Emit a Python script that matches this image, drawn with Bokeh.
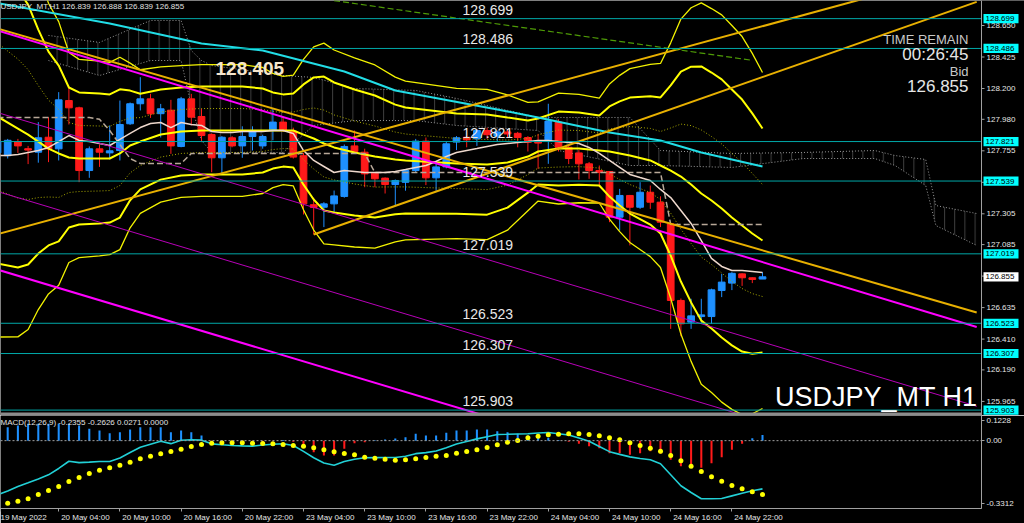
import math
import numpy as np
from bokeh.plotting import figure
from bokeh.models import (Range1d, FixedTicker, Label, BoxAnnotation, Span, ColumnDataSource)
from bokeh.layouts import column
from bokeh.embed import file_html
from bokeh.resources import INLINE
from bokeh.core.properties import value

# ---------------- data ----------------
bars = list(range(76))
opens = [127.74,127.72,127.82,127.77,127.745,127.852,127.769,128.114,128.062,127.614,
         127.769,127.74,127.757,127.948,128.091,128.126,128.02,128.045,127.786,128.126,
         128.0,127.871,127.705,127.848,127.79,127.857,127.79,127.90,127.96,127.895,
         127.72,127.37,127.352,127.376,127.429,127.79,127.745,127.595,127.56,127.514,
         127.53,127.614,127.824,127.562,127.64,127.817,127.852,127.84,127.90,127.86,
         127.89,127.88,127.85,127.824,127.829,127.96,127.78,127.74,127.662,127.614,
         127.607,127.281,127.436,127.352,127.459,127.388,127.233,126.686,126.531,126.571,
         126.571,126.757,126.81,126.876,126.848,126.839]
highs = [127.84,127.84,127.84,127.79,127.96,127.995,128.174,128.214,128.07,127.786,
         127.80,127.936,128.114,128.10,128.281,128.162,128.09,128.119,128.14,128.162,
         128.055,127.88,127.86,127.86,127.93,127.93,127.87,128.055,128.0,127.92,
         127.74,127.42,127.388,127.471,127.80,127.90,127.77,127.60,127.565,127.55,
         127.62,127.84,127.85,127.686,127.82,127.86,127.86,127.91,127.92,127.90,
         127.91,127.89,127.86,127.876,128.091,127.98,127.80,127.76,127.675,127.65,
         127.61,127.483,127.44,127.531,127.507,127.43,127.24,126.70,126.698,126.698,
         126.77,126.876,126.888,126.88,126.85,126.888]
lows = [127.70,127.70,127.74,127.66,127.67,127.674,127.686,127.943,127.531,127.562,
        127.64,127.693,127.686,127.94,128.043,127.99,127.85,127.733,127.78,127.936,
        127.817,127.602,127.59,127.78,127.705,127.757,127.77,127.83,127.89,127.70,
        127.30,127.157,127.21,127.31,127.42,127.74,127.495,127.495,127.45,127.36,
        127.47,127.60,127.51,127.47,127.63,127.76,127.78,127.79,127.84,127.82,
        127.85,127.78,127.75,127.626,127.662,127.75,127.66,127.55,127.555,127.495,
        127.245,127.186,127.079,127.34,127.34,127.21,126.483,126.43,126.483,126.519,
        126.519,126.71,126.76,126.79,126.81,126.839]
closes = [127.82,127.83,127.79,127.76,127.848,127.769,128.119,128.062,127.614,127.769,
          127.745,127.755,127.943,128.091,128.126,128.019,128.055,127.79,128.126,127.995,
          127.864,127.705,127.852,127.79,127.857,127.895,127.857,127.96,127.90,127.71,
          127.376,127.35,127.376,127.433,127.786,127.75,127.59,127.555,127.514,127.543,
          127.614,127.824,127.562,127.64,127.805,127.848,127.833,127.90,127.87,127.89,
          127.875,127.85,127.815,127.81,127.967,127.78,127.70,127.662,127.614,127.60,
          127.281,127.436,127.352,127.459,127.388,127.245,126.686,126.519,126.576,126.583,
          126.762,126.817,126.88,126.848,126.836,126.855]

time_ticks = [0, 6, 12, 18, 24, 30, 36, 42, 48, 54, 60, 66, 72]
time_labels = ["19 May 2022", "20 May 04:00", "20 May 10:00", "20 May 16:00", "20 May 22:00",
               "23 May 04:00", "23 May 10:00", "23 May 16:00", "23 May 22:00",
               "24 May 04:00", "24 May 10:00", "24 May 16:00", "24 May 22:00"]
price_ticks = [128.650, 128.425, 128.200, 127.980, 127.755, 127.530, 127.305, 127.085,
               126.860, 126.635, 126.410, 126.190, 125.965]
levels = [128.699, 128.486, 127.821, 127.539, 127.019, 126.523, 126.307, 125.903]
bid = 126.855
marked_price = "128.405"

# Bollinger bands (middle line and sigma)
bb_bars = [0,2,3,4,5,6,7,8,10,11,12,13,14,16,18,20,24,26,27,28,29,30,31,32,33,35,37,39,
           40,45,48,50,52,53,55,57,59,60,61,62,64,65,66,67,68,69,70,71,72,73,74,75]
bb_mid = [128.000,127.914,127.871,127.821,127.771,127.736,127.707,127.700,
          127.700,127.700,127.736,127.793,127.821,
          127.871,127.893,127.900,127.900,127.900,
          127.900,127.900,127.900,127.871,127.843,
          127.807,127.779,127.743,127.714,127.693,
          127.686,127.664,127.657,127.671,127.714,
          127.750,127.771,127.771,127.757,127.750,
          127.736,127.721,127.686,127.650,127.614,
          127.571,127.514,127.450,127.400,127.343,
          127.279,127.221,127.164,127.114]
bb_sigma = [0.525,0.496,0.464,0.400,0.346,0.314,0.250,0.236,
            0.232,0.229,0.229,0.196,0.171,
            0.161,0.157,0.157,0.157,0.150,
            0.136,0.129,0.132,0.179,0.218,
            0.239,0.232,0.225,0.218,0.196,
            0.189,0.179,0.179,0.161,0.129,
            0.118,0.132,0.129,0.125,0.161,
            0.186,0.207,0.229,0.243,0.304,
            0.375,0.421,0.454,0.457,0.461,
            0.457,0.450,0.429,0.400]

# long moving average (cyan)
ma_bars = [0, 11, 20, 26, 34, 39, 49, 53, 60, 65, 69, 75]
ma_long = [128.811, 128.664, 128.521, 128.471, 128.321, 128.186, 128.050, 127.993,
           127.886, 127.829, 127.743, 127.643]

# Ichimoku
tenkan = [127.721,127.721,127.729,127.743,127.757,127.779,127.821,127.864,127.829,127.821,
          127.807,127.793,127.836,127.879,127.921,127.950,127.957,127.921,127.957,127.943,
          127.936,127.893,127.886,127.886,127.893,127.893,127.893,127.900,127.900,127.879,
          127.757,127.686,127.643,127.600,127.614,127.607,127.600,127.600,127.600,127.607,
          127.621,127.636,127.650,127.679,127.714,127.743,127.757,127.771,127.786,127.800,
          127.807,127.814,127.821,127.829,127.829,127.821,127.814,127.807,127.779,127.736,
          127.686,127.636,127.586,127.564,127.543,127.479,127.421,127.329,127.236,127.114,
          126.986,126.929,126.900,126.900,126.893,126.886]
kijun = ([127.993] * 10 + [127.98, 127.90, 127.80, 127.70] + [127.664] * 5 +
         [127.736] * 18 + [127.600] * 29 + [127.229] * 10)
cloud_bars = [5,10,15,18,19,20,21,28,31,35,41,45,53,55,62,65,72,79,86,88,91,92,96]
cloud_a = [128.579,128.529,128.686,128.686,128.471,128.400,128.364,128.293,128.279,128.200,
           128.186,128.129,127.993,127.993,127.993,127.757,127.736,127.743,127.757,127.721,
           127.693,127.364,127.307]
cloud_b = [128.400,128.293,128.400,128.400,128.079,127.829,127.743,127.743,127.936,127.971,
           127.971,127.936,127.900,127.757,127.650,127.650,127.636,127.700,127.700,127.650,
           127.507,127.221,127.079]

# trend lines: (bar1, price1, bar2, price2)
gold_lines = [(0, 127.159, 96, 129.061), (31, 127.157, 96, 128.819), (0, 128.628, 96, 126.600)]
magenta_thick = [(0, 128.614, 96, 126.497), (0, 126.906, 50, 125.814)]
magenta_thin = [(0, 128.028, 96, 125.930), (0, 127.464, 96, 125.366)]
green_line = (33, 128.828, 74, 128.401)

# MACD(12,26,9)
macd_main = [-0.2651,-0.2456,-0.2236,-0.2056,-0.1870,-0.1670,-0.1357,-0.1006,-0.1074,-0.1050,
             -0.1016,-0.1016,-0.0845,-0.0576,-0.0322,-0.0171,-0.0029,-0.0146,0.0020,0.0044,
             0.0024,-0.0156,-0.0200,-0.0234,-0.0254,-0.0269,-0.0215,-0.0176,-0.0151,-0.0234,
             -0.0522,-0.0835,-0.1089,-0.1201,-0.1021,-0.0908,-0.0835,-0.0830,-0.0825,-0.0820,
             -0.0762,-0.0635,-0.0586,-0.0503,-0.0342,-0.0161,-0.0039,0.0088,0.0195,0.0303,
             0.0313,0.0327,0.0337,0.0371,0.0396,0.0337,0.0273,0.0132,-0.0029,-0.0283,
             -0.0537,-0.0669,-0.0791,-0.0874,-0.0933,-0.1128,-0.1665,-0.2202,-0.2529,-0.2837,
             -0.2837,-0.2822,-0.2695,-0.2568,-0.2446,-0.2355]
macd_signal = [-0.3140,-0.3052,-0.2954,-0.2837,-0.2627,-0.2432,-0.2236,-0.1992,-0.1797,-0.1602,
               -0.1440,-0.1323,-0.1196,-0.1050,-0.0884,-0.0757,-0.0640,-0.0527,-0.0415,-0.0283,
               -0.0186,-0.0122,-0.0103,-0.0103,-0.0103,-0.0122,-0.0137,-0.0151,-0.0186,-0.0234,
               -0.0269,-0.0347,-0.0444,-0.0542,-0.0625,-0.0688,-0.0806,-0.0854,-0.0903,-0.0952,
               -0.0933,-0.0884,-0.0820,-0.0757,-0.0723,-0.0610,-0.0527,-0.0444,-0.0332,-0.0200,
               -0.0073,0.0010,0.0142,0.0220,0.0288,0.0317,0.0337,0.0337,0.0303,0.0239,
               0.0142,0.0044,-0.0103,-0.0234,-0.0366,-0.0513,-0.0723,-0.0981,-0.1245,-0.1504,
               -0.1763,-0.1978,-0.2188,-0.2349,-0.2495,-0.2626]
macd_hist = [0.0500,0.0659,0.0742,0.0825,0.0825,0.0825,0.0825,0.0825,0.0742,0.0581,
             0.0498,0.0366,0.0415,0.0547,0.0659,0.0659,0.0659,0.0415,0.0498,0.0415,
             0.0254,-0.0040,-0.0100,-0.0130,-0.0150,-0.0150,-0.0080,-0.0030,0.0030,-0.0050,
             -0.0317,-0.0562,-0.0723,-0.0723,-0.0396,-0.0122,-0.0073,0.0020,0.0060,0.0100,
             0.0171,0.0337,0.0254,0.0254,0.0386,0.0498,0.0498,0.0547,0.0547,0.0464,
             0.0415,0.0337,0.0254,0.0205,0.0142,0.0030,-0.0050,-0.0151,-0.0269,-0.0366,
             -0.0610,-0.0610,-0.0688,-0.0610,-0.0513,-0.0640,-0.0933,-0.1245,-0.1294,-0.1323,
             -0.1099,-0.0806,-0.0444,-0.0151,0.0122,0.0271]
macd_range = (-0.3312, 0.1228)
macd_header = "MACD(12,26,9) -0.2355 -0.2626 0.0271 0.0000"
header = "USDJPY_MT,H1  126.839 126.888 126.839 126.855"

# ---------------- layout constants ----------------
FONT = "Liberation Sans"
BAR_PX, BAR0_PX = 10.2, -3.0
PRICE_PX = 140.0
TOTAL_W, FRAME_W, MAIN_H, MACD_H, AXIS_H = 1024, 981, 415, 93, 15
RIGHT_W = TOTAL_W - FRAME_W
AXIS_COL = "#A0A0A0"
LABEL_COL = "#E6E6E6"


def bx(px):
    return (px - BAR0_PX) / BAR_PX


X_LO = bx(0)
X_HI = bx(FRAME_W)
X_FULL = bx(TOTAL_W)
Y_HI = price_ticks[0] + 25 / PRICE_PX
Y_LO = Y_HI - MAIN_H / PRICE_PX


def py(px):
    return Y_HI - px / PRICE_PX


# approximate Arial/Liberation Sans advance widths (em) for left-aligning centred labels
CHAR_W = {"M": 0.833, "a": 0.556, "y": 0.5, " ": 0.278, ":": 0.278}


def shifted(txt, start_em):
    """pad a centred label with no-break spaces so its visible text starts start_em right of the tick"""
    w = sum(CHAR_W.get(ch, 0.556) for ch in txt)
    n = max(0, int(round((w + 2 * start_em) / 0.278)))
    return "\u00a0" * n + txt


# ================= price pane (frame spans the whole width; price scale drawn at right) =========
p = figure(frame_width=TOTAL_W, frame_height=MAIN_H,
           x_range=Range1d(X_LO, X_FULL), y_range=Range1d(Y_LO, Y_HI),
           output_backend="svg", toolbar_location=None,
           y_axis_location=None, x_axis_location=None,
           background_fill_color="black", border_fill_color="black",
           outline_line_color=None,
           min_border_left=0, min_border_right=0, min_border_top=0, min_border_bottom=0)
p.grid.visible = False

# Ichimoku cloud
cx = cloud_bars + cloud_bars[::-1]
cy = cloud_a + cloud_b[::-1]
p.patch(cx, cy, fill_color=None, line_color=None, hatch_pattern="|",
        hatch_color="#8A8A8A", hatch_scale=BAR_PX, hatch_weight=1, hatch_alpha=0.45)
p.line(cloud_bars, cloud_a, line_color="#9A9A9A", line_dash="1 2", line_width=1)
p.line(cloud_bars, cloud_b, line_color="#9A9A9A", line_dash="1 2", line_width=1)

# candles
o = np.array(opens); c = np.array(closes)
up = c >= o
ccol = np.where(up, "#1E90FF", "#FF1A1A")
csrc = ColumnDataSource(dict(x=bars, o=opens, h=highs, l=lows, c=closes,
                             top=np.maximum(o, c), bot=np.minimum(o, c), col=ccol))
p.segment(x0="x", y0="l", x1="x", y1="h", line_color="col", line_width=1, source=csrc)
p.vbar(x="x", top="top", bottom="bot", width=0.66, fill_color="col", line_color="col",
       line_width=1, source=csrc)

# Bollinger bands
mid = np.array(bb_mid); sig = np.array(bb_sigma)
for k, w, dash, col in [(1, 1, "1 2", "#A8A800"), (2, 2, "solid", "#FFFF00"), (3, 1.3, "solid", "#F2F200")]:
    p.line(bb_bars, mid + k * sig, line_color=col, line_width=w, line_dash=dash)
    p.line(bb_bars, mid - k * sig, line_color=col, line_width=w, line_dash=dash)
p.line(bb_bars, bb_mid, line_color="#FFFF00", line_width=2)

# moving averages / ichimoku lines
p.line(ma_bars, ma_long, line_color="#22DDE6", line_width=2)
p.line(bars, kijun, line_color="#B8A898", line_width=1.5, line_dash="6 3")
p.line(bars, tenkan, line_color="#EED8CC", line_width=1.5)

# trend lines
for b1, p1, b2, p2 in gold_lines:
    p.line([b1, b2], [p1, p2], line_color="#E8B000", line_width=2)
for b1, p1, b2, p2 in magenta_thick:
    p.line([b1, b2], [p1, p2], line_color="#FF00FF", line_width=2)
for b1, p1, b2, p2 in magenta_thin:
    p.line([b1, b2], [p1, p2], line_color="#B800B8", line_width=1)
p.line([green_line[0], green_line[2]], [green_line[1], green_line[3]],
       line_color="#4E9A06", line_width=1.2, line_dash="6 3")

# horizontal levels
p.segment(x0=[X_LO] * len(levels), y0=levels, x1=[X_HI] * len(levels), y1=levels,
          line_color="#00A8A8", line_width=1)
p.text(x=[bx(462)] * len(levels), y=levels, text=[f"{lv:.3f}" for lv in levels],
       text_color="#E8E8E8", text_font=value(FONT), text_font_size="14px",
       text_baseline="bottom", text_align="left", y_offset=-4)

# price-scale column (right of the frame edge)
p.quad(left=[X_HI], right=[X_FULL], bottom=[Y_LO], top=[Y_HI], fill_color="black", line_color=None)
p.segment(x0=[X_HI], y0=[Y_LO], x1=[X_HI], y1=[Y_HI], line_color=AXIS_COL, line_width=1)
n_t = len(price_ticks)
p.segment(x0=[X_HI] * n_t, y0=price_ticks, x1=[bx(FRAME_W + 3)] * n_t, y1=price_ticks,
          line_color=AXIS_COL, line_width=1)
p.text(x=[bx(FRAME_W + 5)] * n_t, y=price_ticks, text=[f"{t:.3f}" for t in price_ticks],
       text_color=LABEL_COL, text_font=value(FONT), text_font_size="8px",
       text_baseline="middle", text_align="left")
box_h = 4.6 / PRICE_PX
box_prices = levels + [bid]
box_fill = ["#00FFFF"] * len(levels) + ["#FFFFFF"]
nb = len(box_prices)
p.quad(left=[bx(FRAME_W + 2)] * nb, right=[bx(FRAME_W + 37)] * nb,
       bottom=[v - box_h for v in box_prices], top=[v + box_h for v in box_prices],
       fill_color=box_fill, line_color=None)
p.text(x=[bx(FRAME_W + 4)] * nb, y=box_prices, text=[f"{v:.3f}" for v in box_prices],
       text_color="black", text_font=value(FONT), text_font_size="8px",
       text_baseline="middle", text_align="left")

# separator band at bottom of price pane
p.add_layout(BoxAnnotation(bottom=Y_LO, top=py(412), left=X_LO, right=X_HI,
                           fill_color="#8C8C8C", fill_alpha=1, line_color=None))

# texts
p.add_layout(Label(x=X_LO, y=py(1), text=header, text_color="#E0E0E0", text_font=FONT,
                   text_font_size="8px", text_baseline="top", text_align="left"))
p.add_layout(Label(x=bx(215), y=py(61), text=marked_price, text_color="#F6E6CC",
                   text_font=FONT, text_font_size="19px", text_font_style="bold",
                   text_baseline="top", text_align="left"))
for txt, ypx, size, col in [("TIME REMAIN", 39, "13px", "#C8C8C8"), ("00:26:45", 53.5, "17px", "#E6E6E6"),
                            ("Bid", 71, "13px", "#C8C8C8"), (f"{bid:.3f}", 85, "17px", "#E6E6E6")]:
    p.add_layout(Label(x=bx(968), y=py(ypx), text=txt, text_color=col, text_font=FONT,
                       text_font_size=size, text_baseline="middle", text_align="right"))
p.add_layout(Label(x=bx(977), y=py(396), text="USDJPY_MT H1", text_color="#FFFFFF",
                   text_font=FONT, text_font_size="27px", text_baseline="middle",
                   text_align="right"))

# ================= MACD pane =================
m = figure(frame_width=FRAME_W, frame_height=MACD_H, x_range=Range1d(X_LO, X_HI),
           y_range=Range1d(*macd_range), output_backend="svg", toolbar_location=None,
           y_axis_location="right", background_fill_color="black", border_fill_color="black",
           outline_line_color=None, min_border_left=0, min_border_right=RIGHT_W,
           min_border_top=0, min_border_bottom=AXIS_H)
m.grid.visible = False
pad = round(5 * (macd_range[1] - macd_range[0]) / MACD_H, 4)
mt_top = round(macd_range[1] - pad, 4)
mt_bot = round(macd_range[0] + pad, 4)
my = m.yaxis[0]
my.ticker = FixedTicker(ticks=[mt_top, 0, mt_bot])
my.major_label_overrides = {mt_top: f"{macd_range[1]:.4f}", 0: "0.00", mt_bot: f"{macd_range[0]:.4f}"}
for ax in (my, m.xaxis[0]):
    ax.axis_line_color = AXIS_COL
    ax.major_tick_line_color = AXIS_COL
    ax.major_tick_out = 3
    ax.major_tick_in = 0
    ax.minor_tick_line_color = None
    ax.major_label_text_color = LABEL_COL
    ax.major_label_text_font = FONT
    ax.major_label_text_font_size = "8px"
    ax.major_label_standoff = 2
xa = m.xaxis[0]
# the first time label belongs to bar 0, which lies just left of the visible frame:
# anchor it at the first visible position (the axis keeps it inside the canvas)
first_tick = math.ceil(X_LO * 1e4) / 1e4
x_ticks = [first_tick] + time_ticks[1:]
overrides = {first_tick: time_labels[0]}
for t, s in zip(time_ticks[1:], time_labels[1:]):
    overrides[t] = shifted(s, 0.3)
xa.ticker = FixedTicker(ticks=x_ticks)
xa.major_label_overrides = overrides
xa.major_label_standoff = 1

m.add_layout(Span(location=0, dimension="width", line_color=AXIS_COL, line_dash="2 2", line_width=1))
hcol = ["#1E90FF" if h >= 0 else "#FF1A1A" for h in macd_hist]
m.vbar(x=bars, top=macd_hist, bottom=0, width=0.2, fill_color=hcol, line_color=None)
m.line(bars, macd_main, line_color="#22D0D6", line_width=1.6)
m.scatter(bars, macd_signal, size=5, fill_color="#FFFF00", line_color=None)
m.add_layout(Label(x=X_LO, y=macd_range[1] - 2 * (macd_range[1] - macd_range[0]) / MACD_H,
                   text=macd_header, text_color="#E0E0E0", text_font=FONT,
                   text_font_size="8px", text_baseline="top", text_align="left"))

layout = column(p, m)
open("out.html", "w").write(file_html(layout, INLINE))
